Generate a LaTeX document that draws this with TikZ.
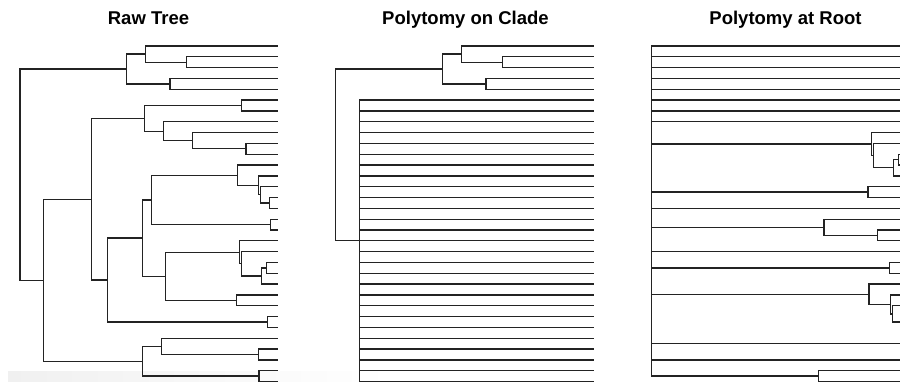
\documentclass[tikz,border=0pt]{standalone}
\usepackage{fontspec}
\setmainfont{Liberation Sans}
\usepackage{xcolor}
\usepackage{tikz}
\usetikzlibrary{calc}
\definecolor{branchgray}{RGB}{35,35,35}
\definecolor{stripgray}{RGB}{240,240,240}
\tikzset{
  branch/.style={
      draw=branchgray,
      line width=1.3pt
  },
  treetitle/.style={
      anchor=base,
      text=black,
      font=\bfseries\fontsize{18.5}{22}\selectfont
  }
}
% internal node at x = #2, halfway between #3 and #4, with edges to #5
\newcommand{\fanat}[5]{%
  \path (#3) -- (#4) coordinate[pos=0.5] (#1-mid);
  \coordinate (#1) at (#1-mid -| #2,0);
  \foreach \c in {#5} \draw[branch] (#1) |- (\c);
}
\newcommand{\joinat}[4]{\fanat{#1}{#2}{#3}{#4}{#3,#4}}

\begin{document}
\begin{tikzpicture}[x=1pt, y=-1pt]
      \clip (0,0) rectangle (900,381);
      \shade[left color=stripgray, right color=white] (8,371) rectangle (390,381);

      % Titles
      \node (rawtitle) [treetitle] at (148.5,24) {Raw Tree};
      \node (cladetitle) [treetitle] at (465.5,24) {Polytomy on Clade};
      \node (roottitle) [treetitle] at (785.5,24) {Polytomy at Root};

      % Tips
      \foreach \i in {1,...,32} {
        \coordinate (r\i) at (278.3,{46+(\i-1)*10.823});
        \coordinate (p\i) at (594.3,{46+(\i-1)*10.823});
        \coordinate (q\i) at (910.3,{46+(\i-1)*10.823});
      }

      % Raw tree
      \joinat{rn01}{186.7}{r2}{r3}
      \joinat{rn02}{145.7}{r1}{rn01}
      \joinat{rn03}{170}{r4}{r5}
      \joinat{rn04}{126.7}{rn02}{rn03}
      \joinat{rn05}{241.7}{r6}{r7}
      \joinat{rn06}{246}{r10}{r11}
      \joinat{rn07}{192.3}{r9}{rn06}
      \joinat{rn08}{163.3}{r8}{rn07}
      \joinat{rn09}{144.3}{rn05}{rn08}
      \joinat{rn10}{269.3}{r15}{r16}
      \joinat{rn11}{260.5}{r14}{rn10}
      \joinat{rn12}{258.5}{r13}{rn11}
      \joinat{rn13}{237.3}{r12}{rn12}
      \joinat{rn14}{270.7}{r17}{r18}
      \joinat{rn15}{151.7}{rn13}{rn14}
      \joinat{rn16}{266.7}{r21}{r22}
      \joinat{rn17}{261.7}{rn16}{r23}
      \joinat{rn18}{241.3}{r20}{rn17}
      \joinat{rn19}{239.3}{r19}{rn18}
      \joinat{rn20}{236.7}{r24}{r25}
      \joinat{rn21}{165.7}{rn19}{rn20}
      \joinat{rn22}{142.7}{rn15}{rn21}
      \joinat{rn23}{267.7}{r26}{r27}
      \joinat{rn24}{107.7}{rn22}{rn23}
      \joinat{rn25}{91.7}{rn09}{rn24}
      \joinat{rn26}{258.3}{r29}{r30}
      \joinat{rn27}{161.7}{r28}{rn26}
      \joinat{rn28}{259}{r31}{r32}
      \joinat{rn29}{142.3}{rn27}{rn28}
      \joinat{rn30}{43.3}{rn25}{rn29}
      \joinat{rn31}{20}{rn04}{rn30}

      % Polytomy on clade
      \joinat{pn01}{502.7}{p2}{p3}
      \joinat{pn02}{461.7}{p1}{pn01}
      \joinat{pn03}{486}{p4}{p5}
      \joinat{pn04}{442.7}{pn02}{pn03}
      \fanat{pn05}{359.7}{p6}{p32}{p6,p7,p8,p9,p10,p11,p12,p13,p14,p15,p16,p17,p18,p19,p20,p21,p22,p23,p24,p25,p26,p27,p28,p29,p30,p31,p32}
      \joinat{pn06}{335.7}{pn04}{pn05}

      % Polytomy at root
      \joinat{qn01}{898.5}{q11}{q12}
      \joinat{qn02}{893.3}{qn01}{q13}
      \joinat{qn03}{873.3}{q10}{qn02}
      \joinat{qn04}{871.5}{q9}{qn03}
      \joinat{qn05}{868}{q14}{q15}
      \joinat{qn06}{877.7}{q18}{q19}
      \joinat{qn07}{824}{q17}{qn06}
      \joinat{qn08}{889.5}{q21}{q22}
      \joinat{qn09}{901.3}{q26}{q27}
      \joinat{qn10}{892.5}{q25}{qn09}
      \joinat{qn11}{890.5}{q24}{qn10}
      \joinat{qn12}{869}{q23}{qn11}
      \joinat{qn13}{902.7}{q28}{q29}
      \joinat{qn14}{818.5}{q31}{q32}
      \fanat{qn15}{651.7}{q1}{qn14}{q1,q2,q3,q4,q5,q6,q7,q8,qn04,qn05,q16,qn07,q20,qn08,qn12,qn13,q30,qn14}
    \end{tikzpicture}
\end{document}
